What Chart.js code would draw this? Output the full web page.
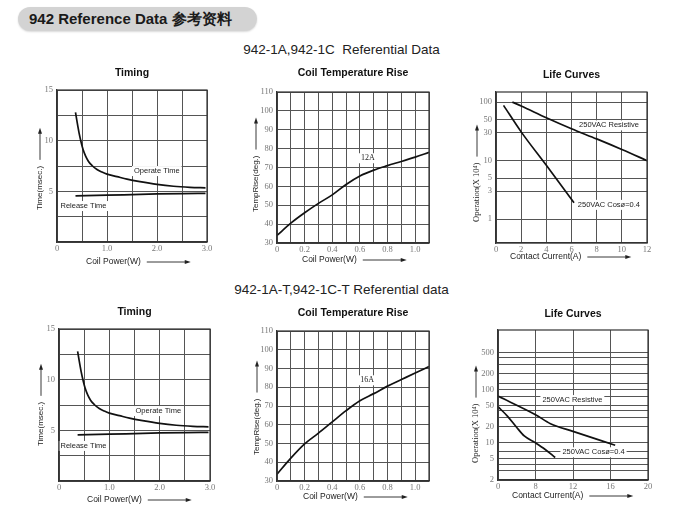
<!DOCTYPE html>
<html><head><meta charset="utf-8">
<script src="https://cdn.jsdelivr.net/npm/chart.js@4.4.1/dist/chart.umd.min.js"></script>
<style>
html,body{margin:0;padding:0;background:#fff;}
body{width:683px;height:524px;position:relative;overflow:hidden;font-family:'Liberation Sans',Arial,sans-serif;}
.pill{position:absolute;left:18px;top:7px;width:239px;height:24px;border-radius:12px;background:#d3d3d3;box-shadow:0 1px 2px rgba(0,0,0,0.15);}
.pill span{position:absolute;left:11px;top:3px;font-weight:bold;font-size:15px;color:#1a1a1a;white-space:nowrap;}
.sub{position:absolute;left:0;width:683px;text-align:center;font-size:13.5px;color:#222;white-space:pre;}
.cv{position:absolute;left:0;top:0;width:683px;height:524px;}
</style></head><body>
<div class="pill"><span>942 Reference Data 参考资料</span></div>
<div class="sub" style="top:42px">942-1A,942-1C  Referential Data</div>
<div class="sub" style="top:282px">942-1A-T,942-1C-T Referential data</div>
<div class="cv"><canvas id="c0"></canvas></div>
<div class="cv"><canvas id="c1"></canvas></div>
<div class="cv"><canvas id="c2"></canvas></div>
<div class="cv"><canvas id="c3"></canvas></div>
<div class="cv"><canvas id="c4"></canvas></div>
<div class="cv"><canvas id="c5"></canvas></div>
<script>
// ================= DATA =================
// Timing (same curves on both sheets)
const timingTicksX  = [0, 0.5, 1, 1.5, 2, 2.5, 3];
const timingLabelsX = ['0', '', '1.0', '', '2.0', '', '3.0'];
const timingTicksY  = [0, 2.5, 5, 7.5, 10, 12.5, 15];
const timingLabelsY = ['', '', '5', '', '10', '', '15'];
const operatePower = [0.37, 0.40, 0.44, 0.48, 0.52, 0.57, 0.63, 0.7, 0.8, 0.9, 1.0, 1.2, 1.4, 1.66, 2.0, 2.33, 2.66, 2.97];
const operateTime  = [12.8, 11.9, 10.8, 9.9, 9.15, 8.5, 7.95, 7.55, 7.15, 6.9, 6.7, 6.45, 6.2, 5.95, 5.68, 5.5, 5.4, 5.35];
const releasePower = [0.37, 1.0, 1.5, 2.0, 2.5, 2.97];
const releaseTime  = [4.55, 4.62, 4.68, 4.74, 4.78, 4.8];

// Coil temperature rise
const coilTicksX  = [0, 0.1, 0.2, 0.3, 0.4, 0.5, 0.6, 0.7, 0.8, 0.9, 1.0, 1.1];
const coilLabelsX = ['0', '', '0.2', '', '0.4', '', '0.6', '', '0.8', '', '1.0', ''];
const coilTicksY  = [30, 40, 50, 60, 70, 80, 90, 100, 110];
const coilLabelsY = ['30', '40', '50', '60', '70', '80', '90', '100', '110'];
const coil12Power = [0, 0.1, 0.2, 0.3, 0.4, 0.5, 0.6, 0.7, 0.8, 0.9, 1.0, 1.1];
const coil12Rise  = [34, 40.5, 46, 51, 55.5, 61, 65.5, 68.6, 71, 73.2, 75.5, 78];
const coil16Power = [0, 0.1, 0.2, 0.3, 0.4, 0.5, 0.6, 0.7, 0.8, 0.9, 1.0, 1.1];
const coil16Rise  = [33.6, 42.2, 49.8, 55.5, 61.5, 67.5, 72.8, 76.6, 80.6, 84.1, 87.6, 91];

// Life curves, 942-1A / 1C (operations x10^4, log)
const life1TicksX  = [0, 2, 4, 6, 8, 10, 12];
const life1LabelsX = ['0', '2', '4', '6', '8', '10', '12'];
const life1TicksY  = [1, 3, 5, 10, 30, 50, 100];
const life1LabelsY = ['1', '3', '5', '10', '30', '50', '100'];
const life1ResCurrent = [1.3, 2, 4, 6, 8, 10, 12];
const life1ResOps     = [100, 86, 54, 35, 23.5, 15.5, 10];
const life1CosCurrent = [0.6, 2, 4, 6.2];
const life1CosOps     = [88, 31, 8.3, 1.9];

// Life curves, 942-1A-T / 1C-T (grid slots are evenly spaced; first slot is labelled "0")
const life2TicksX  = [4, 8, 12, 16, 20];
const life2LabelsX = ['0', '8', '12', '16', '20'];
const life2TicksY  = [2, 3, 4, 5, 7, 10, 20, 30, 40, 50, 75, 100, 130, 200, 300, 400, 500];
const life2LabelsY = ['2', '', '', '5', '', '10', '20', '', '', '50', '', '100', '', '200', '', '', '500'];
const life2ResCurrent = [4, 8, 9.6, 12, 16.5];
const life2ResOps     = [76, 34, 23, 16.5, 9];
const life2CosCurrent = [4, 5, 6, 6.8, 8, 9, 10.1];
const life2CosOps     = [48, 32, 19.5, 13.5, 10, 7.6, 5.3];

// ================= HELPERS =================
function pts(xs, ys) { return xs.map((x, i) => ({ x: x, y: ys[i] })); }
function curve(xs, ys) {
  return { data: pts(xs, ys), borderColor: '#111', borderWidth: 1.7, pointRadius: 0,
    fill: false, cubicInterpolationMode: 'monotone' };
}
function axis(type, min, max, ticks, labels, pos, size) {
  return {
    type: type, position: pos, min: min, max: max,
    afterBuildTicks: s => { s.ticks = ticks.map(v => ({ value: v })); },
    afterFit: s => { if (pos === 'left') s.width = size; else s.height = size; },
    ticks: { autoSkip: false, maxRotation: 0, minRotation: 0, padding: pos === 'left' ? 4 : 2,
      color: '#777', font: { family: 'Liberation Serif', size: 8.5 },
      callback: (v, i) => labels[i] },
    grid: { color: '#555', lineWidth: 1, drawTicks: false },
    border: { color: '#333', width: 1.2 }
  };
}
function arrow(ctx, x1, y1, x2, y2) {
  ctx.beginPath(); ctx.moveTo(x1, y1); ctx.lineTo(x2 - 4, y2);
  ctx.lineWidth = 0.9; ctx.strokeStyle = '#222'; ctx.stroke();
  ctx.beginPath(); ctx.moveTo(x2, y2); ctx.lineTo(x2 - 6, y2 - 2); ctx.lineTo(x2 - 6, y2 + 2);
  ctx.closePath(); ctx.fillStyle = '#222'; ctx.fill();
}
const decor = {
  id: 'decor',
  beforeDatasetsDraw(chart, args, o) {
    const ctx = chart.ctx, xs = chart.scales.x, ys = chart.scales.y;
    ctx.save();
    (o.notes || []).forEach(n => {
      ctx.font = n.font; ctx.textAlign = 'left'; ctx.textBaseline = 'middle';
      const px = xs.getPixelForValue(n.x), py = ys.getPixelForValue(n.y);
      const w = ctx.measureText(n.text).width;
      ctx.fillStyle = '#fff'; ctx.fillRect(px - 2, py - 5, w + 4, 10);
      ctx.fillStyle = '#222'; ctx.fillText(n.text, px, py);
    });
    ctx.restore();
  },
  afterDraw(chart, args, o) {
    const ctx = chart.ctx, a = chart.chartArea;
    ctx.save();
    ctx.strokeStyle = '#333'; ctx.lineWidth = 1.2;
    ctx.strokeRect(a.left, a.top, a.right - a.left, a.bottom - a.top);
    ctx.fillStyle = '#111'; ctx.textBaseline = 'middle';
    ctx.font = 'bold 10.5px "Liberation Sans"'; ctx.textAlign = 'center';
    ctx.fillText(o.title, (a.left + a.right) / 2, o.titleY);
    ctx.font = '8.5px "Liberation Sans"'; ctx.textAlign = 'left'; ctx.fillStyle = '#222';
    ctx.fillText(o.xTitle, o.xTitleX, o.xTitleY);
    const w = ctx.measureText(o.xTitle).width;
    arrow(ctx, o.xTitleX + w + 6, o.xTitleY, o.xTitleX + w + 50, o.xTitleY);
    ctx.save();
    ctx.translate(o.yTitleX, o.yTitleY); ctx.rotate(-Math.PI / 2);
    ctx.font = o.yFont; ctx.fillStyle = '#222'; ctx.textAlign = 'left'; ctx.textBaseline = 'middle';
    ctx.fillText(o.yTitle, 0, 0);
    const wy = ctx.measureText(o.yTitle).width;
    arrow(ctx, wy + 6, 0, wy + 38, 0);
    ctx.restore();
    ctx.restore();
  }
};
function makeChart(id, box, xAx, yAx, datasets, deco) {
  new Chart(document.getElementById(id), {
    type: 'line',
    data: { datasets: datasets },
    options: {
      responsive: true, maintainAspectRatio: false, animation: false, events: [],
      layout: { padding: { left: box.L - 30, top: box.T, right: 683 - box.R, bottom: 524 - box.B - 16 } },
      scales: { x: xAx, y: yAx },
      plugins: { legend: { display: false }, tooltip: { enabled: false }, decor: deco }
    },
    plugins: [decor]
  });
}
const sansNote = '7.5px "Liberation Sans"';
const serifNote = '8px "Liberation Serif"';

// ================= CHARTS =================
// Top row
makeChart('c0', { L: 57, R: 207, T: 90, B: 242 },
  axis('linear', 0, 3, timingTicksX, timingLabelsX, 'bottom', 16),
  axis('linear', 0, 15, timingTicksY, timingLabelsY, 'left', 30),
  [curve(operatePower, operateTime), curve(releasePower, releaseTime)],
  { title: 'Timing', titleY: 73, xTitle: 'Coil Power(W)', xTitleX: 86, xTitleY: 262,
    yTitle: 'Time(msec.)', yTitleX: 40, yTitleY: 210, yFont: '8px "Liberation Sans"',
    notes: [{ text: 'Operate Time', x: 1.54, y: 7.0, font: sansNote },
            { text: 'Release Time', x: 0.07, y: 3.55, font: sansNote }] });

makeChart('c1', { L: 277, R: 429, T: 92, B: 243 },
  axis('linear', 0, 1.1, coilTicksX, coilLabelsX, 'bottom', 16),
  axis('linear', 30, 110, coilTicksY, coilLabelsY, 'left', 30),
  [curve(coil12Power, coil12Rise)],
  { title: 'Coil Temperature Rise', titleY: 73, xTitle: 'Coil Power(W)', xTitleX: 302, xTitleY: 260,
    yTitle: 'TempRise(deg.)', yTitleX: 256, yTitleY: 212, yFont: '8px "Liberation Sans"',
    notes: [{ text: '12A', x: 0.607, y: 74.9, font: serifNote }] });

makeChart('c2', { L: 496, R: 647, T: 92, B: 243 },
  axis('linear', 0, 12, life1TicksX, life1LabelsX, 'bottom', 16),
  axis('logarithmic', 0.39, 149, life1TicksY, life1LabelsY, 'left', 30),
  [curve(life1ResCurrent, life1ResOps), curve(life1CosCurrent, life1CosOps)],
  { title: 'Life Curves', titleY: 75, xTitle: 'Contact Current(A)', xTitleX: 510, xTitleY: 257,
    yTitle: 'Operation(X 10\u2074)', yTitleX: 477, yTitleY: 222, yFont: '8.5px "Liberation Serif"',
    notes: [{ text: '250VAC Resistive', x: 6.6, y: 40, font: sansNote },
            { text: '250VAC Cos\u00f8=0.4', x: 6.5, y: 1.75, font: sansNote }] });

// Bottom row
makeChart('c3', { L: 59, R: 210, T: 329, B: 481 },
  axis('linear', 0, 3, timingTicksX, timingLabelsX, 'bottom', 16),
  axis('linear', 0, 15, timingTicksY, timingLabelsY, 'left', 30),
  [curve(operatePower, operateTime), curve(releasePower, releaseTime)],
  { title: 'Timing', titleY: 312, xTitle: 'Coil Power(W)', xTitleX: 87, xTitleY: 500,
    yTitle: 'Time(msec.)', yTitleX: 41, yTitleY: 446, yFont: '8px "Liberation Sans"',
    notes: [{ text: 'Operate Time', x: 1.52, y: 6.9, font: sansNote },
            { text: 'Release Time', x: 0.03, y: 3.46, font: sansNote }] });

makeChart('c4', { L: 277, R: 429, T: 331, B: 481 },
  axis('linear', 0, 1.1, coilTicksX, coilLabelsX, 'bottom', 16),
  axis('linear', 30, 110, coilTicksY, coilLabelsY, 'left', 30),
  [curve(coil16Power, coil16Rise)],
  { title: 'Coil Temperature Rise', titleY: 313, xTitle: 'Coil Power(W)', xTitleX: 303, xTitleY: 497,
    yTitle: 'TempRise(deg.)', yTitleX: 257, yTitleY: 455, yFont: '8px "Liberation Sans"',
    notes: [{ text: '16A', x: 0.603, y: 83.7, font: serifNote }] });

makeChart('c5', { L: 498, R: 648, T: 330, B: 480 },
  axis('linear', 4, 20, life2TicksX, life2LabelsX, 'bottom', 16),
  axis('logarithmic', 2, 1337, life2TicksY, life2LabelsY, 'left', 30),
  [curve(life2ResCurrent, life2ResOps), curve(life2CosCurrent, life2CosOps)],
  { title: 'Life Curves', titleY: 314, xTitle: 'Contact Current(A)', xTitleX: 512, xTitleY: 496,
    yTitle: 'Operation(X 10\u2074)', yTitleX: 476, yTitleY: 463, yFont: '8.5px "Liberation Serif"',
    notes: [{ text: '250VAC Resistive', x: 8.74, y: 64, font: sansNote },
            { text: '250VAC Cos\u00f8=0.4', x: 10.87, y: 6.65, font: sansNote }] });
</script>
</body></html>
